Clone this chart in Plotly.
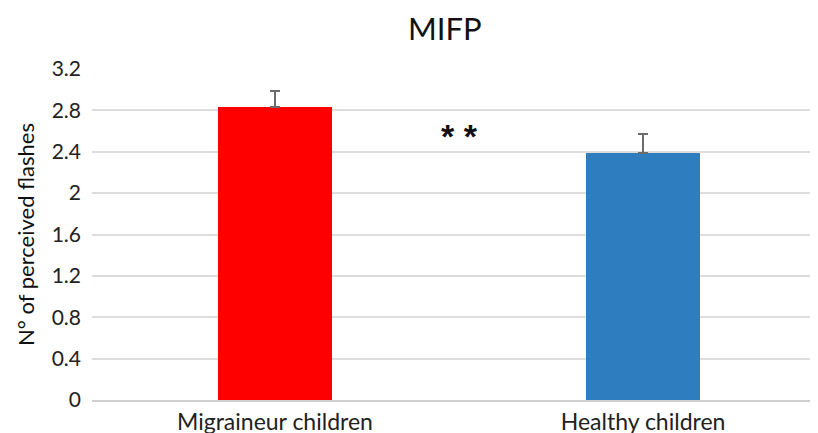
import plotly.graph_objects as go

categories = ["Migraineur children", "Healthy children"]
means = [2.83, 2.385]
errors = [0.16, 0.19]
colors = ["#ff0000", "#2e7ebf"]
y_ticks = [0, 0.4, 0.8, 1.2, 1.6, 2, 2.4, 2.8, 3.2]
y_tick_labels = ["0", "0.4", "0.8", "1.2", "1.6", "2", "2.4", "2.8", "3.2"]
significance = "* *"

fig = go.Figure()
fig.add_trace(go.Bar(
    x=categories, y=means, width=0.31,
    marker=dict(color=colors, line=dict(width=0)),
    error_y=dict(type="data", array=errors, symmetric=False, arrayminus=[0, 0],
                 color="#6b6b6b", thickness=2, width=5),
))
fig.add_annotation(x=0.5, y=2.55, xref="x", yref="y", text="<b>" + significance + "</b>",
                   showarrow=False, font=dict(size=34, color="#111111", family="Liberation Sans"))

fig.update_layout(
    width=818, height=433,
    margin=dict(l=84, r=0, t=61, b=41),
    paper_bgcolor="white", plot_bgcolor="white",
    font=dict(family="Lato", color="#222222"),
    title=dict(text="MIFP", x=0.534, xanchor="center", y=0.952, yanchor="middle",
               font=dict(size=31, color="#111111", family="Lato")),
    showlegend=False,
    bargap=0,
)
fig.update_xaxes(range=[-0.497, 1.497], showgrid=False, showline=True,
                 linecolor="#d0d0d0", linewidth=2, ticks="",
                 tickfont=dict(size=23, color="#222222"))
fig.update_yaxes(range=[0, 3.2], tickvals=y_ticks, ticktext=y_tick_labels,
                 showgrid=True, gridcolor="#dddddd", gridwidth=2,
                 zeroline=False, showline=False, ticks="", ticklabelstandoff=10,
                 tickfont=dict(size=21, color="#222222"),
                 title=dict(text="N° of perceived flashes", standoff=10,
                            font=dict(size=22, color="#111111")))

fig.write_html("out.html")
